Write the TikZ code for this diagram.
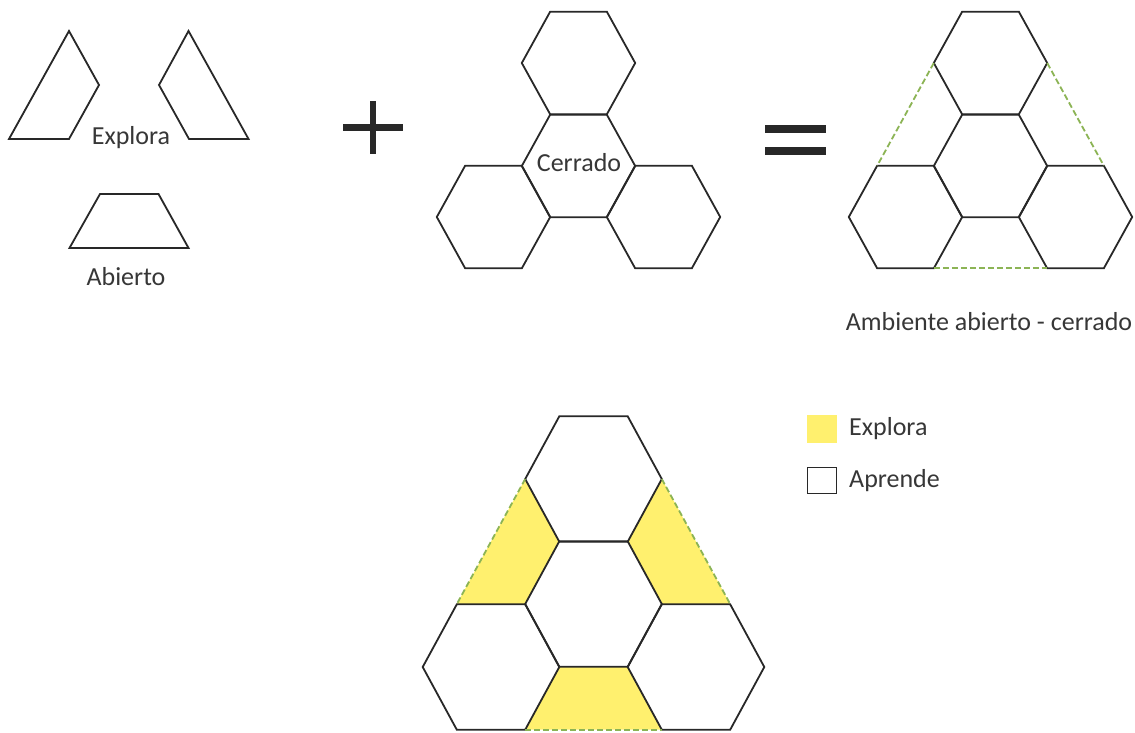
\documentclass[tikz,border=0pt]{standalone}
\usepackage{fontspec}
\setmainfont{Carlito}
\definecolor{hexcol}{RGB}{40,40,40}
\definecolor{txtcol}{RGB}{55,55,55}
\definecolor{dashgreen}{RGB}{140,180,85}
\definecolor{yel}{RGB}{255,240,110}
\newcommand\myhex[4]{\draw[hexline] ({#1-#3},{#2}) -- ({#1-#3/2},{#2-#4}) -- ({#1+#3/2},{#2-#4}) -- ({#1+#3},{#2}) -- ({#1+#3/2},{#2+#4}) -- ({#1-#3/2},{#2+#4}) -- cycle;}
\tikzset{
  hexline/.style={draw=hexcol,line width=1.8pt,line join=miter},
  greendash/.style={draw=dashgreen,line width=1.8pt,dash pattern=on 6pt off 3pt},
  lbl/.style={text=txtcol,font=\fontsize{26}{30}\selectfont,inner sep=0pt},
  yfill/.style={fill=yel,draw=none},
  bar/.style={fill=hexcol,draw=none}
}
\begin{document}
\begin{tikzpicture}[x=1pt,y=-1pt]
\useasboundingbox[fill=white] (0,0) rectangle (1135,733);
% left pieces
\draw[hexline] (69,31) -- (99,85) -- (69,139) -- (9,139) -- cycle;
\draw[hexline] (188.5,31) -- (159,85) -- (189,139) -- (248.5,139) -- cycle;
\draw[hexline] (100,194) -- (158.5,194) -- (188.5,248) -- (69.5,248) -- cycle;
\node[lbl] (explora1) at (131,138) {Explora};
\node[lbl] (abierto) at (126,277) {Abierto};
% plus
\fill[bar] (342.5,124.5) rectangle (402.5,131);
\fill[bar] (369.5,101) rectangle (376,154);
% middle hexes
\myhex{578.5}{63}{56.7}{51.3}
\myhex{578.5}{166}{56.7}{51.3}
\myhex{493.5}{217}{56.7}{51.3}
\myhex{663.5}{217}{56.7}{51.3}
\node[lbl] (cerrado) at (579,163) {Cerrado};
% equals
\fill[bar] (765,125.5) rectangle (826,133);
\fill[bar] (765,147.5) rectangle (826,155);
% right hexes
\myhex{990.5}{63}{56.7}{51.3}
\myhex{990.5}{166}{56.7}{51.3}
\myhex{905.5}{217}{56.7}{51.3}
\myhex{1075.5}{217}{56.7}{51.3}
\draw[greendash] (933.8,63) -- (877.2,165.7);
\draw[greendash] (1047.2,63) -- (1103.8,165.7);
\draw[greendash] (933.8,268.3) -- (1047.2,268.3);
\node[lbl] (ambiente) at (989,322) {Ambiente abierto - cerrado};
% bottom group
\fill[yfill] (525.2,479) -- (559.65,541.8) -- (525.2,604) -- (456.85,604) -- cycle;
\fill[yfill] (661.8,479) -- (627.35,541.8) -- (661.8,604) -- (730.15,604) -- cycle;
\fill[yfill] (559.35,666.8) -- (627.65,666.8) -- (661.8,729.6) -- (525.2,729.6) -- cycle;
\myhex{593.5}{479}{68.3}{62.8}
\myhex{593.5}{604}{68.3}{62.8}
\myhex{491}{667}{68.3}{62.8}
\myhex{696}{667}{68.3}{62.8}
\draw[greendash] (525.2,479) -- (456.85,604);
\draw[greendash] (661.8,479) -- (730.15,604);
\draw[greendash] (525.2,729.8) -- (661.8,729.8);
% legend
\node[fill=yel,minimum width=30pt,minimum height=28pt,inner sep=0pt] (keyy) at (821.5,429) {};
\node[draw=hexcol,line width=1pt,fill=white,minimum width=29pt,minimum height=26pt,inner sep=0pt] (keyw) at (821.5,480) {};
\node[lbl,anchor=west] (explora2) at (849,429) {Explora};
\node[lbl,anchor=west] (aprende) at (849,481) {Aprende};
\end{tikzpicture}
\end{document}
